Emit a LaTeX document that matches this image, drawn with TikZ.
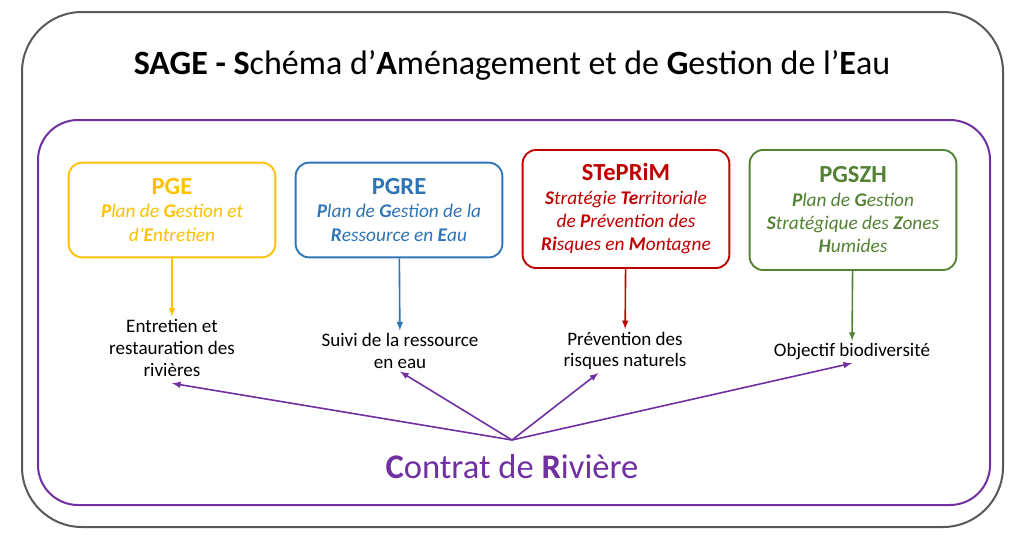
\documentclass[tikz,border=0pt]{standalone}
\usepackage{fontspec}
\setmainfont{Carlito}
\usetikzlibrary{arrows,positioning}

\definecolor{frame}{HTML}{595959}
\definecolor{pgecol}{HTML}{FFC000}
\definecolor{pgrecol}{HTML}{2E75B6}
\definecolor{stepcol}{HTML}{C00000}
\definecolor{zhcol}{HTML}{548235}
\definecolor{contratcol}{HTML}{7030A0}

\begin{document}
\begin{tikzpicture}[x=0.75pt,y=-0.75pt,
    plan/.style={draw,line width=1.4pt,rounded corners=10pt,align=center,
      minimum width=155pt,minimum height=71pt,font=\fontsize{14.5}{17.5}\selectfont},
    effet/.style={align=center,inner sep=2pt,font=\fontsize{14.3}{16.3}\selectfont},
    fleche/.style={->,>=latex,line width=1.2pt}]
\useasboundingbox (0,0) rectangle (1024,536);

% cadres
\draw[frame,line width=1.5pt,rounded corners=45pt] (22,12) rectangle (1003,527);
\draw[contratcol,line width=1.5pt,rounded corners=30pt] (38,120) rectangle (990,505);

\node (sage) at (512,65) {\fontsize{25.5}{30}\selectfont\textbf{SAGE - S}chéma d’\textbf{A}ménagement et de \textbf{G}estion de l’\textbf{E}au};

% plans
\node[plan,pgecol] (pge) at (172,210) {{\fontsize{18.4}{21}\selectfont\bfseries PGE}\\
  \itshape\textbf{P}lan de \textbf{G}estion et\\ \itshape d’\textbf{E}ntretien};
\node[plan,pgrecol] (pgre) at (399,210) {{\fontsize{18.4}{21}\selectfont\bfseries PGRE}\\
  \itshape\textbf{P}lan de \textbf{G}estion de la\\ \itshape\textbf{R}essource en \textbf{E}au};
\node[plan,stepcol,minimum height=88.5pt] (steprim) at (626,209) {{\fontsize{18.4}{21}\selectfont\bfseries STePRiM}\\
  \itshape\textbf{S}tratégie \textbf{Te}rritoriale\\ \itshape de \textbf{P}révention des\\
  \itshape\textbf{Ri}sques en \textbf{M}ontagne};
\node[plan,zhcol,minimum height=90pt] (pgszh) at (853,210) {{\fontsize{18.4}{21}\selectfont\bfseries PGSZH}\\
  \itshape\textbf{P}lan de \textbf{G}estion\\ \itshape\textbf{S}tratégique des \textbf{Z}ones\\
  \itshape\textbf{H}umides};

% effets
\node[effet] (riv) at (172,348) {Entretien et\\ restauration des\\ rivières};
\node[effet] (suivi) at (400,351) {Suivi de la ressource\\ en eau};
\node[effet] (risq) at (625,351) {Prévention des\\ risques naturels};
\node[effet] (bio) at (852,352) {Objectif biodiversité};

\draw[fleche,pgecol] (pge) -- (riv);
\draw[fleche,pgrecol] (pgre) -- (suivi);
\draw[fleche,stepcol] (steprim) -- (risq);
\draw[fleche,zhcol] (pgszh) -- (bio);

% contrat de riviere
\node[contratcol] (contrat) at (512,467) {\fontsize{25.9}{30}\selectfont\textbf{C}ontrat de \textbf{R}ivière};
\coordinate (hub) at (512,440);
\draw[fleche,contratcol] (hub) -- ([yshift=-3pt]riv.south);
\draw[fleche,contratcol] (hub) -- (suivi.south);
\draw[fleche,contratcol] (hub) -- ([xshift=-20pt]risq.south);
\draw[fleche,contratcol] (hub) -- (bio.south);
\end{tikzpicture}
\end{document}
